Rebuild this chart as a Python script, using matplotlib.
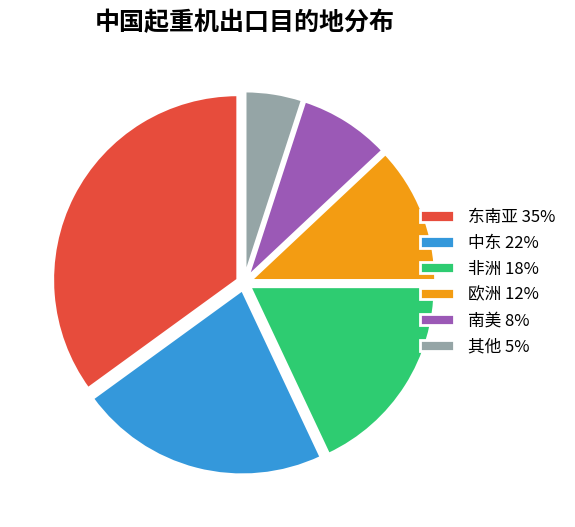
import matplotlib.pyplot as plt

plt.rcParams['font.family'] = ['Noto Sans CJK SC', 'DejaVu Sans']

regions = ["东南亚", "中东", "非洲", "欧洲", "南美", "其他"]
shares = [35, 22, 18, 12, 8, 5]
colors = ["#e74c3c", "#3498db", "#2ecc71", "#f39c12", "#9b59b6", "#95a5a6"]

W, H = 575, 527
fig = plt.figure(figsize=(W / 100, H / 100), dpi=100)

# pie centre and radius in pixels
cx, cy, r = 244, 283, 185
left_px, right_px = 30, 435
bot_px, top_px = 40, 500
ax = fig.add_axes([left_px / W, (H - top_px) / H,
                   (right_px - left_px) / W, (top_px - bot_px) / H])

wedges, _ = ax.pie(shares, colors=colors, startangle=90, counterclock=True,
                   explode=[0.038] * len(shares),
                   wedgeprops=dict(edgecolor="white", linewidth=2))
ax.set_aspect('auto')
ax.set_xlim((left_px - cx) / r, (right_px - cx) / r)
ax.set_ylim((cy - top_px) / r, (cy - bot_px) / r)
ax.axis('off')

labels = [f"{n} {v}%" for n, v in zip(regions, shares)]
fig.legend(wedges, labels, loc='center left',
           bbox_to_anchor=(420 / W, (H - 282) / H), bbox_transform=fig.transFigure,
           frameon=False, fontsize=12, handlelength=2.05, handleheight=0.66,
           handletextpad=0.8, labelspacing=0.53, borderpad=0, borderaxespad=0)

fig.text(245 / W, 1 - 23 / H, "中国起重机出口目的地分布", ha='center', va='center',
         fontsize=18, fontweight='bold')

fig.savefig("out.png", dpi=100, facecolor="white")
